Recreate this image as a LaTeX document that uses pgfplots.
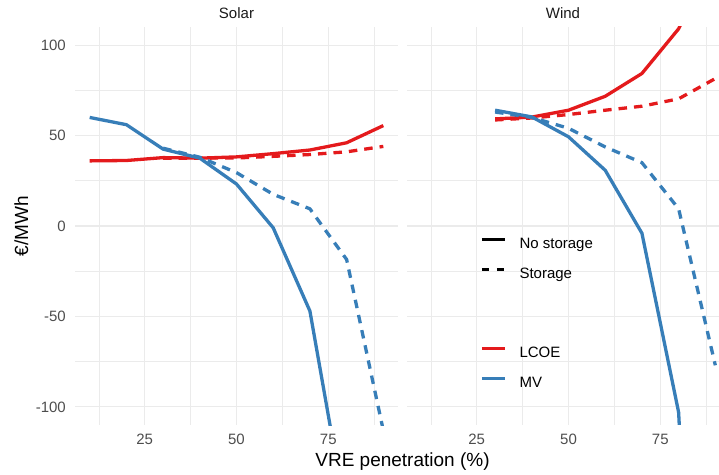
\documentclass[border=0pt]{standalone}
\usepackage{fontspec}
\setmainfont{Liberation Sans}
\usepackage{pgfplots}
\pgfplotsset{compat=1.18}
\definecolor{cred}{HTML}{E41A1C}
\definecolor{cblue}{HTML}{377EB8}
\definecolor{gridc}{HTML}{EBEBEB}
\definecolor{tickc}{HTML}{4D4D4D}
\definecolor{stripc}{HTML}{1A1A1A}
\pgfplotsset{
  facet/.style={
    scale only axis, height=398pt,
    xmin=6, ymin=-110, ymax=110,
    xtick={25,50,75}, ytick={-100,-50,0,50,100},
    minor xtick={12.5,37.5,62.5,87.5}, minor ytick={-75,-25,25,75},
    grid=both,
    major grid style={color=gridc, line width=1.1pt},
    minor grid style={color=gridc, line width=0.6pt},
    axis line style={draw=none},
    major tick length=0pt, minor tick length=0pt,
    tick label style={font=\fontsize{15}{18}\selectfont, text=tickc, inner sep=0pt},
    /pgf/number format/assume math mode=true,
    xticklabel style={yshift=-9pt},
    yticklabel style={xshift=-9pt},
    every axis title shift=0pt,
    title style={at={(0.5,1)}, anchor=base, yshift=8.7pt, font=\fontsize{15}{18}\selectfont, text=stripc},
    every axis plot/.append style={line width=3.3pt},
  },
  nostor/.style={solid},
  stor/.style={dash pattern=on 8.5pt off 7pt},
}
\begin{document}
\begin{tikzpicture}
% Solar
\begin{axis}[facet, at={(75pt,49pt)}, anchor=south west, width=323pt, xmax=94, title={Solar}]
\addplot[cred, nostor] coordinates {(10,36) (20,36.2) (30,37.8) (40,37.5) (50,38.2) (60,40) (70,42) (80,46) (90,55.5)};
\addplot[cred, stor] coordinates {(30,37.5) (40,37.5) (50,37.6) (60,38.5) (70,39.5) (80,41) (90,44)};
\addplot[cblue, nostor] coordinates {(10,60) (20,56) (30,42.5) (40,37.5) (50,23.2) (60,-1) (70,-47) (80,-162)};
\addplot[cblue, stor] coordinates {(30,43) (40,38) (50,29.5) (60,17.5) (70,9.5) (80,-18.5) (90,-113)};
\end{axis}
% Wind
\begin{axis}[facet, at={(407pt,49pt)}, anchor=south west, width=312pt, xmax=91, yticklabels={}, title={Wind},
  legend style={at={(axis description cs:0.234,0.142)}, anchor=west, draw=none, fill=none, inner sep=0pt,
    font=\fontsize{15}{18}\selectfont, row sep=16pt, column sep=13pt,
    nodes={inner sep=0pt, text height=11pt, text depth=3pt}},
  legend cell align=left,
  legend image code/.code={\draw[#1, line width=3.3pt] (0pt,5pt) -- (23pt,5pt);}]
\addplot[cred, nostor, forget plot] coordinates {(30,59.2) (40,60.2) (50,64) (60,71.7) (70,84.3) (80,109) (90,150)};
\addplot[cred, stor, forget plot] coordinates {(30,58.6) (40,59.7) (50,61.6) (60,64) (70,66.2) (80,70.3) (90,81.5)};
\addplot[cblue, nostor, forget plot] coordinates {(30,64) (40,60.3) (50,49.3) (60,30.8) (70,-4) (80,-103) (90,-500)};
\addplot[cblue, stor, forget plot] coordinates {(30,63) (40,60) (50,54) (60,43.7) (70,35) (80,9.5) (90,-77)};
\addlegendimage{cred, solid}
\addlegendentry{LCOE}
\addlegendimage{cblue, solid}
\addlegendentry{MV}
\end{axis}
% linetype legend
\begin{axis}[at={(407pt,49pt)}, anchor=south west, scale only axis, width=312pt, height=398pt,
  xmin=6, xmax=91, ymin=-110, ymax=110, hide axis,
  legend style={at={(axis description cs:0.234,0.415)}, anchor=west, draw=none, fill=none, inner sep=0pt,
    font=\fontsize{15}{18}\selectfont, row sep=16pt, column sep=13pt,
    nodes={inner sep=0pt, text height=11pt, text depth=3pt}},
  legend cell align=left,
  legend image code/.code={\draw[#1, line width=3.3pt] (0pt,5pt) -- (23pt,5pt);}]
\addlegendimage{black, solid}
\addlegendentry{No storage}
\addlegendimage{black, dash pattern=on 7.5pt off 7.5pt}
\addlegendentry{Storage}
\end{axis}
\node[font=\fontsize{19}{22}\selectfont, anchor=base] at (402.5pt,8pt) {VRE penetration (\%)};
\node[font=\fontsize{19}{22}\selectfont, rotate=90, anchor=base] at (28pt,248pt) {€/MWh};
\pgfresetboundingbox
\useasboundingbox (0,0) rectangle (719pt,474pt);
\end{tikzpicture}
\end{document}
